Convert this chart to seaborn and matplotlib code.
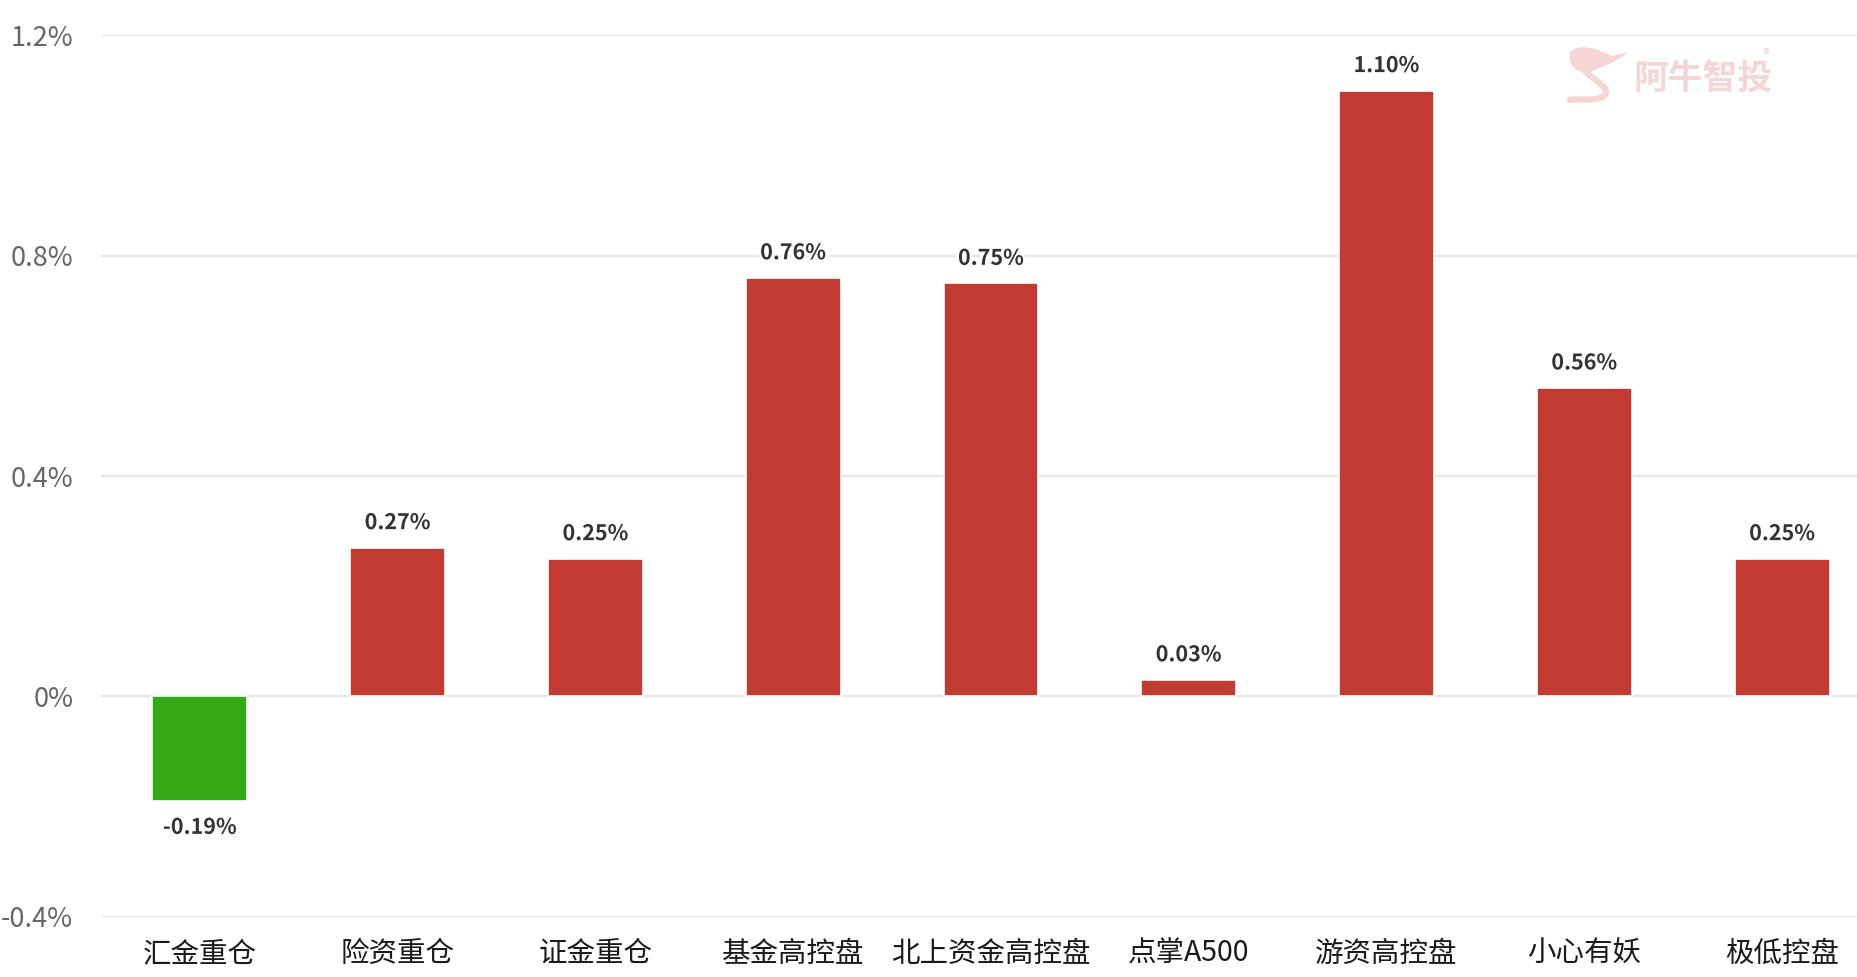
import numpy as np
import pandas as pd
import matplotlib
matplotlib.use('Agg')
import matplotlib.pyplot as plt
import matplotlib.patheffects as pe
from matplotlib.path import Path
from matplotlib.patches import PathPatch
import seaborn as sns

# Veriler
kategoriler = ['汇金重仓', '险资重仓', '证金重仓', '基金高控盘', '北上资金高控盘',
               '点掌A500', '游资高控盘', '小心有妖', '极低控盘']
degerler = [-0.19, 0.27, 0.25, 0.76, 0.75, 0.03, 1.10, 0.56, 0.25]
etiketler = ['-0.19%', '0.27%', '0.25%', '0.76%', '0.75%', '0.03%', '1.10%', '0.56%', '0.25%']
y_ticks = [-0.4, 0, 0.4, 0.8, 1.2]
y_tick_labels = ['-0.4%', '0%', '0.4%', '0.8%', '1.2%']

df = pd.DataFrame({'kategori': kategoriler, 'deger': degerler})
df['renk'] = np.where(df['deger'] < 0, 'neg', 'pos')

sns.set_style('white')
plt.rcParams['font.family'] = ['Noto Sans CJK SC', 'DejaVu Sans']

W, H = 1857, 977
fig = plt.figure(figsize=(W / 100, H / 100), dpi=100)
ax = fig.add_axes([101 / W, (H - 916.6) / H, (W - 101) / W, (916.6 - 35.5) / H])

sns.barplot(data=df, x='kategori', y='deger', hue='renk',
            palette={'pos': '#C23B33', 'neg': '#34A815'}, saturation=1,
            width=0.48, dodge=False, legend=False, ax=ax,
            edgecolor='white', linewidth=1.2, zorder=3)

ax.set_ylim(-0.4, 1.2)
ax.set_xlim(-0.5, 8.5 - 24 / 197.8)
ax.set_yticks(y_ticks)
ax.set_yticklabels(y_tick_labels, fontsize=19.5, color='#666666')
ax.tick_params(axis='y', length=0, pad=20)
ax.tick_params(axis='x', length=0, pad=16, labelsize=20.5, labelcolor='#1a1a1a')
ax.set_xlabel('')
ax.set_ylabel('')
ax.grid(axis='y', color='#E6E6E6', linewidth=1.6, zorder=0)
ax.grid(axis='x', visible=False)
for s in ax.spines.values():
    s.set_visible(False)

# Değer etiketleri
for i, (v, t) in enumerate(zip(degerler, etiketler)):
    off = 18 if v >= 0 else -19
    ax.annotate(t, (i, v), xytext=(0, off), textcoords='offset points',
                ha='center', va='center', fontsize=15.5, color='#333333',
                fontweight='bold', zorder=5,
                path_effects=[pe.withStroke(linewidth=4, foreground='white')])

# Filigran
wm = '#F5D5D5'
fig.text(1634 / W, 1 - 79 / H, '阿牛智投', fontsize=25, fontweight='bold',
         color=wm, ha='left', va='center')
fig.text(1763 / W, 1 - 56 / H, '®', fontsize=10, color=wm, ha='left', va='center')


def px(x, y):
    return (x / W, 1 - y / H)


bas = Path([px(1570, 52), px(1580, 42), px(1600, 50), px(1612, 56),
            px(1622, 54), px(1628, 52),
            px(1620, 60), px(1605, 66), px(1590, 72),
            px(1576, 74), px(1568, 66), px(1570, 52),
            px(1570, 52)],
           [Path.MOVETO, Path.CURVE4, Path.CURVE4, Path.CURVE4,
            Path.CURVE3, Path.CURVE3,
            Path.CURVE4, Path.CURVE4, Path.CURVE4,
            Path.CURVE4, Path.CURVE4, Path.CURVE4,
            Path.CLOSEPOLY])
fig.patches.append(PathPatch(bas, transform=fig.transFigure, facecolor=wm, edgecolor='none'))
kuyruk = Path([px(1584, 70), px(1595, 82), px(1612, 88), px(1604, 96),
               px(1596, 102), px(1580, 98), px(1570, 100)],
              [Path.MOVETO, Path.CURVE4, Path.CURVE4, Path.CURVE4,
               Path.CURVE4, Path.CURVE4, Path.CURVE4])
fig.patches.append(PathPatch(kuyruk, transform=fig.transFigure, facecolor='none',
                             edgecolor=wm, linewidth=4.5, capstyle='round'))

fig.savefig('out.png', dpi=100)
